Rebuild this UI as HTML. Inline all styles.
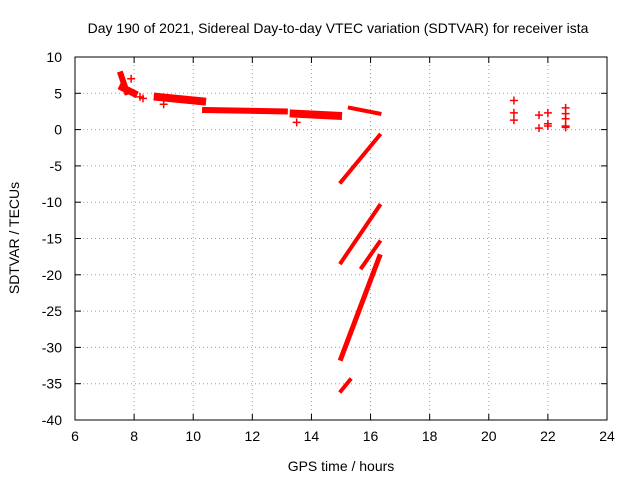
<!DOCTYPE html>
<html><head><meta charset="utf-8"><style>
body{margin:0;background:#fff;}
svg{display:block;font-family:"Liberation Sans",sans-serif;}
</style></head><body>
<svg id="chart" width="640" height="480" xmlns="http://www.w3.org/2000/svg">
<rect width="640" height="480" fill="#fff"/>
<text x="338" y="33" font-size="14" text-anchor="middle">Day 190 of 2021, Sidereal Day-to-day VTEC variation (SDTVAR) for receiver ista</text>
<text x="341" y="471" font-size="14" text-anchor="middle">GPS time / hours</text>
<text x="19" y="238" font-size="14" text-anchor="middle" transform="rotate(-90 19 238)">SDTVAR / TECUs</text>
<g id="grid"></g><g id="ticks"></g><g id="marks"></g>
<rect x="75" y="57" width="532" height="363" fill="none" stroke="#000" stroke-width="1"/>
</svg>
<script>
const xTicks=[6,8,10,12,14,16,18,20,22,24];
const yTicks=[10,5,0,-5,-10,-15,-20,-25,-30,-35,-40];
const trackStartX=[7.55,7.6,8.8,10.4,13.4,15.3,15.0,15.0,15.0,15.7,15.0];
const trackStartY=[7.6,5.8,4.5,2.7,2.2,3.0,-7.2,-18.3,-31.5,-19.0,-36.0];
const trackEndX=[7.75,8.0,10.3,13.1,14.9,16.3,16.3,16.3,16.3,16.3,15.3];
const trackEndY=[5.2,5.0,3.9,2.5,1.9,2.2,-0.8,-10.5,-17.5,-15.5,-34.5];
const trackWidth=[6,7,8,6,8,4,4,4,5,4,4];
const pointX=[20.85,20.85,20.85,21.7,21.7,22.0,22.0,22.0,22.6,22.6,22.6,22.6,22.6,7.9,8.2,8.3,9.0,13.5];
const pointY=[4.0,2.3,1.3,2.0,0.2,2.3,0.8,0.5,3.0,2.2,1.5,0.5,0.3,7.0,4.5,4.3,3.5,1.0];
const X=h=>75+(h-6)*532/18;
const Y=v=>57+(10-v)*363/50;
const NS="http://www.w3.org/2000/svg";
function mk(t,a,p){const e=document.createElementNS(NS,t);for(const k in a)e.setAttribute(k,a[k]);p.appendChild(e);return e;}
const grid=document.getElementById('grid'),ticks=document.getElementById('ticks'),marks=document.getElementById('marks');
xTicks.forEach(t=>{const x=X(t);
 if(t>6&&t<24){const g=mk('line',{x1:x,x2:x,y1:57,y2:420,stroke:'#a0a0a0','stroke-dasharray':'1,3'},grid);
 
 }
 mk('line',{x1:x,x2:x,y1:420,y2:414,stroke:'#000'},ticks);mk('line',{x1:x,x2:x,y1:57,y2:63,stroke:'#000'},ticks);
 const l=mk('text',{x:x,y:441,'font-size':14,'text-anchor':'middle'},ticks);l.textContent=t;
 
 });
yTicks.forEach(t=>{const y=Y(t);
 if(t<10&&t>-40){const g=mk('line',{x1:75,x2:607,y1:y,y2:y,stroke:'#a0a0a0','stroke-dasharray':'1,3'},grid);
 
 }
 mk('line',{x1:75,x2:81,y1:y,y2:y,stroke:'#000'},ticks);mk('line',{x1:607,x2:601,y1:y,y2:y,stroke:'#000'},ticks);
 const l=mk('text',{x:62,y:y+5,'font-size':14,'text-anchor':'end'},ticks);l.textContent=t;
 
 });
trackStartX.forEach((_,i)=>{const e=mk('line',{x1:X(trackStartX[i]),y1:Y(trackStartY[i]),x2:X(trackEndX[i]),y2:Y(trackEndY[i]),stroke:'#f00','stroke-width':trackWidth[i],'stroke-linecap':'square'},marks);
 
 });
pointX.forEach((_,i)=>{const x=X(pointX[i]),y=Y(pointY[i]);
 const e=mk('path',{d:`M${x-4},${y}H${x+4}M${x},${y-4}V${y+4}`,stroke:'#f00','stroke-width':1.5},marks);
 
 });
</script>
</body></html>
